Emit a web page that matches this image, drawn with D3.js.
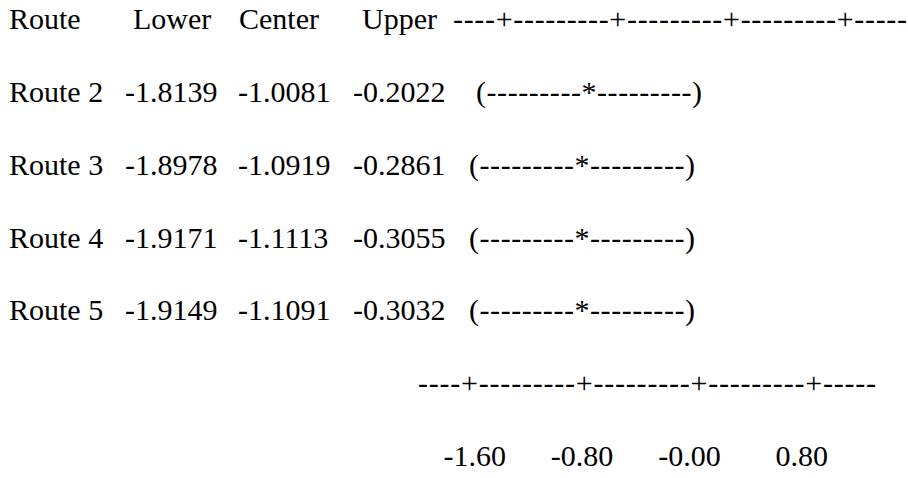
<!DOCTYPE html>
<html>
<head>
<meta charset="utf-8">
<script src="https://cdn.jsdelivr.net/npm/d3@7"></script>
<style>
  html, body { margin: 0; padding: 0; background: #fff; }
  svg text { font-family: "Liberation Serif", "Times New Roman", serif; font-size: 30px; fill: #000; }
</style>
</head>
<body>
<svg id="chart" width="908" height="478"></svg>
<script>
// Tukey simultaneous intervals: Route 1 subtracted from routes 2..5
const routes = ["Route 2", "Route 3", "Route 4", "Route 5"];
const lower  = [-1.8139, -1.8978, -1.9171, -1.9149];
const center = [-1.0081, -1.0919, -1.1113, -1.1091];
const upper  = [-0.2022, -0.2861, -0.3055, -0.3032];
const headers = ["Route", "Lower", "Center", "Upper"];
const tickValues = [-1.60, -0.80, 0.00, 0.80];
const tickLabels = ["-1.60", "-0.80", "-0.00", "0.80"];

const rulerText = "----+---------+---------+---------+-----";
const intervalText = "(---------*---------)";

const svg = d3.select("#chart");
// plain hyphen-minus, as in a text session listing
const fmt = v => d3.format(".4f")(v).replace("\u2212", "-");

// text line baselines: header, four routes, ruler, tick labels
const row = d3.scaleLinear().domain([0, 6]).range([29, 466]);

// column starts
const headerX = [9, 133, 239, 362];
const colX = [9, 125, 238, 353];

// header line
svg.selectAll("text.hdr").data(headers).join("text")
  .attr("class", "hdr")
  .attr("x", (d, i) => headerX[i])
  .attr("y", row(0))
  .text(d => d);

svg.append("text")
  .attr("x", 453).attr("y", row(0))
  .attr("textLength", 454).attr("lengthAdjust", "spacing")
  .text(rulerText);

// one line per route
const rows = routes.map((r, i) => ({ route: r, lo: lower[i], ce: center[i], up: upper[i], i }));
const g = svg.selectAll("g.route").data(rows).join("g")
  .attr("class", "route")
  .attr("transform", d => `translate(0,${row(d.i + 1)})`);

g.append("text").attr("x", colX[0]).text(d => d.route);
g.append("text").attr("x", colX[1]).text(d => fmt(d.lo));
g.append("text").attr("x", colX[2]).text(d => fmt(d.ce));
g.append("text").attr("x", colX[3]).text(d => fmt(d.up));
g.append("text")
  .attr("x", d => d.i === 0 ? 476 : 469)
  .attr("textLength", 226).attr("lengthAdjust", "spacing")
  .text(intervalText);

// bottom ruler and tick labels
svg.append("text")
  .attr("x", 418).attr("y", row(5))
  .attr("textLength", 458).attr("lengthAdjust", "spacing")
  .text(rulerText);

const x = d3.scaleLinear().domain([-1.6, 0.8]).range([506, 828]);
svg.selectAll("text.tick").data(tickValues).join("text")
  .attr("class", "tick")
  .attr("x", d => x(d))
  .attr("y", row(6))
  .attr("text-anchor", "end")
  .text((d, i) => tickLabels[i]);
</script>
</body>
</html>
